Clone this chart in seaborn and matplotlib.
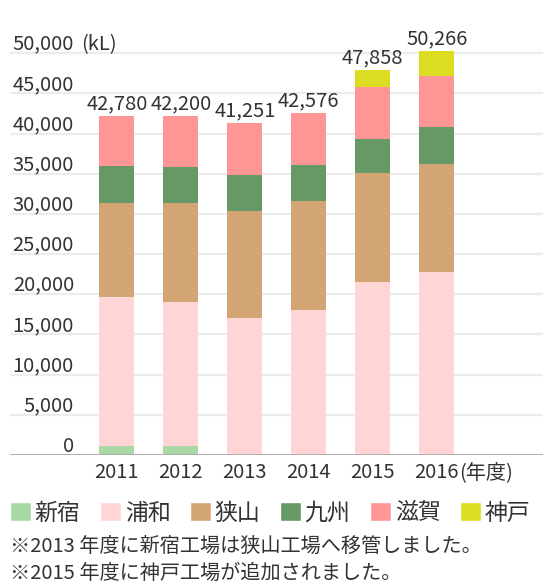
import numpy as np
import seaborn as sns
import matplotlib.pyplot as plt
from matplotlib.patches import Patch

years = ["2011", "2012", "2013", "2014", "2015", "2016"]
totals = [42780, 42200, 41251, 42576, 47858, 50266]

series_names = ["新宿", "浦和", "狭山", "九州", "滋賀", "神戸"]
shinjuku = [1150, 1150, 0, 0, 0, 0]
urawa = [18450, 17900, 17100, 18100, 21550, 22800]
sayama = [11700, 12250, 13250, 13450, 13500, 13450]
kyushu = [4700, 4500, 4500, 4500, 4250, 4500]
shiga = [6200, 6400, 6400, 6500, 6450, 6350]
kobe = [0, 0, 0, 0, 2100, 3150]
colors = ["#a8d8a3", "#ffd5d5", "#d4a574", "#669966", "#ff9696", "#dcdc22"]

notes = ["※2013 年度に新宿工場は狭山工場へ移管しました。",
         "※2015 年度に神戸工場が追加されました。"]

sns.set_style("white")
plt.rcParams["font.family"] = ["Noto Sans CJK JP", "DejaVu Sans"]
TXT = "#333333"

W, H = 543, 585
fig = plt.figure(figsize=(W / 100, H / 100), dpi=100)
ax = fig.add_axes([10 / W, 130 / H, 533 / W, (455 - 21) / H])

stack = np.cumsum(np.array([shinjuku, urawa, sayama, kyushu, shiga, kobe]), axis=0)
# tallest cumulative first so each lower series paints over it
for i in range(len(series_names) - 1, -1, -1):
    sns.barplot(x=years, y=stack[i], order=years, color=colors[i], width=0.55,
                saturation=1, linewidth=0, errorbar=None, ax=ax)

ax.set_xlim(-1.67, 6.66)
ax.set_ylim(0, 54000)
for s in ax.spines.values():
    s.set_visible(False)
ax.set_yticks(range(0, 50001, 5000))
ax.yaxis.grid(True, color="#ececec", lw=1.6)
ax.set_axisbelow(True)
ax.tick_params(axis="y", length=0, labelleft=False)
ax.axhline(0, color="#aaaaaa", lw=2, zorder=5)

ytr = ax.get_yaxis_transform()
for v in range(0, 50001, 5000):
    ax.annotate(f"{v:,}", xy=(0.12, v), xycoords=ytr, xytext=(0, 2.5),
                textcoords="offset points", ha="right", va="baseline",
                fontsize=14.5, color=TXT)
ax.annotate("(kL)", xy=(0.12, 50000), xycoords=ytr, xytext=(5, 2.5),
            textcoords="offset points", ha="left", va="baseline",
            fontsize=14.5, color=TXT)

ax.set_xticks(range(len(years)))
ax.set_xticklabels(years)
ax.tick_params(axis="x", length=0, pad=5, labelsize=14.5, labelcolor=TXT)
ax.set_xlabel("")
ax.annotate("(年度)", xy=(5, 0), xycoords=("data", "axes fraction"),
            xytext=(16, -5), textcoords="offset points", ha="left", va="top",
            fontsize=14.5, color=TXT)

for i, t in enumerate(totals):
    ax.annotate(f"{t:,}", xy=(i, stack[-1][i]), xytext=(0, 5),
                textcoords="offset points", ha="center", va="baseline",
                fontsize=14.5, color=TXT)

handles = [Patch(facecolor=c, label=n) for n, c in zip(series_names, colors)]
leg = fig.legend(handles=handles, ncol=6, loc="center left",
                 bbox_to_anchor=(10 / W, 1 - 513 / H), frameon=False,
                 fontsize=16.5, handlelength=0.9, handleheight=0.9,
                 handletextpad=0.18, columnspacing=0.85, borderpad=0,
                 borderaxespad=0)
for t in leg.get_texts():
    t.set_color(TXT)

fig.text(10 / W, 1 - 546 / H, notes[0], ha="left", va="center", fontsize=14.5, color=TXT)
fig.text(10 / W, 1 - 573 / H, notes[1], ha="left", va="center", fontsize=14.5, color=TXT)

fig.savefig("out.png", dpi=100)
